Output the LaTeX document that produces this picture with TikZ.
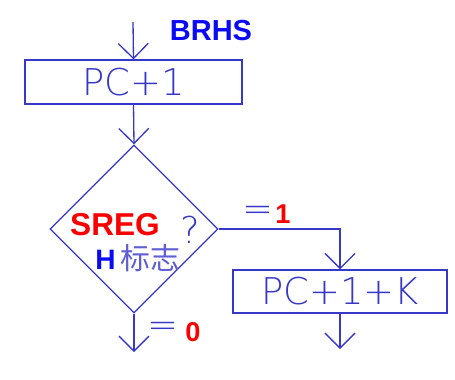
\documentclass[tikz,border=0pt]{standalone}
\usepackage{fontspec}
\setmainfont{Liberation Sans}
\newfontfamily\thinfont{DejaVu Sans ExtraLight}
\newfontfamily\cjk{Noto Sans CJK SC}
\usetikzlibrary{arrows.meta,shapes.geometric,positioning}
\definecolor{lineblue}{RGB}{55,55,200}
\definecolor{textblue}{RGB}{10,10,245}
\definecolor{flagred}{RGB}{250,0,0}

\begin{document}
\begin{tikzpicture}[x=0.02cm,y=-0.02cm]
\tikzset{
  flow/.style={draw=lineblue, line width=0.75pt},
  arr/.style={flow, -{Straight Barb[length=0.3cm, width=0.6cm, line width=0.75pt]}},
  opbox/.style={flow, rectangle, inner sep=0pt, text=lineblue, font=\thinfont\fontsize{21}{21}\selectfont},
  test/.style={flow, diamond, aspect=1, inner sep=0pt, minimum width=3.36cm, minimum height=3.36cm},
  lbl/.style={inner sep=0pt, font=\bfseries\fontsize{15.5}{16}\selectfont},
  thin/.style={inner sep=0pt, text=lineblue, font=\thinfont\fontsize{21}{21}\selectfont}
}
\fill[white] (0,0) rectangle (455,379);
\useasboundingbox (0,0) rectangle (455,379);
% ---------- entry ----------
\coordinate (in) at (133,22);
\node[lbl, text=textblue, font=\bfseries\fontsize{16.5}{17}\selectfont] (name) at (211,31) {BRHS};
\node[opbox, minimum width=4.34cm, minimum height=0.88cm] (inc) at (133.5,82) {PC+1};
% ---------- test of the H flag ----------
\node[test] (flag) at (134,229) {};
\node[lbl, text=flagred, font=\bfseries\fontsize{18}{18}\selectfont] (sreg) at (115,225) {SREG};
\node[thin] (ask) at (190,230) {?};
\node[inner sep=0pt, anchor=base west] (hflag) at (95,269)
  {\textcolor{textblue}{\bfseries\fontsize{16}{16}\selectfont H}\hspace{3pt}\textcolor{lineblue!80}{\cjk\fontsize{17}{17}\selectfont 标志}};
% ---------- branches ----------
\node[opbox, minimum width=4.28cm, minimum height=0.86cm] (jump) at (340,291.5) {PC+1+K};
\coordinate (out0) at (134,352);
\coordinate (out1) at (340,349);
\node[thin] (eq1) at (258,214) {=};
\node[lbl, text=flagred] (one) at (283,214) {1};
\node[thin] (eq0) at (163,330) {=};
\node[lbl, text=flagred] (zero) at (193,332) {0};
\draw[arr] (in) -- (inc.north);
\draw[arr] (inc.south) -- (flag.north);
\draw[arr] (flag.east) -| (jump.north);
\draw[arr] (flag.south) -- (out0);
\draw[arr] (jump.south) -- (out1);
\end{tikzpicture}
\end{document}
